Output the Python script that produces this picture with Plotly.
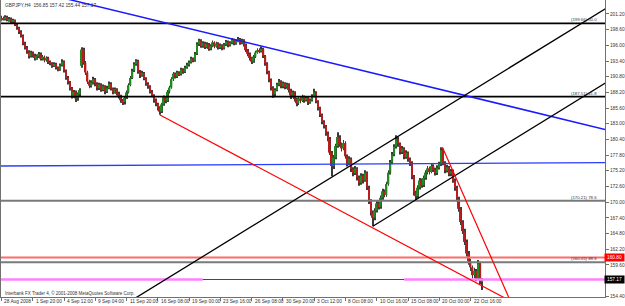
import plotly.graph_objects as go

# ---------------- data (GBPJPY, H4) ----------------
bar_index = list(range(247))

opens = [200.2,200.5,200.3,200.7,200.2,200.4,199.9,200.1,199.4,198.9,
 198.2,197.6,196.3,195.6,195.0,194.2,194.8,194.3,193.9,194.2,
 194.6,193.8,194.1,193.5,193.9,193.2,193.0,192.6,192.9,192.3,
 192.0,192.7,193.3,191.8,190.6,189.9,188.9,187.6,188.3,187.2,
 187.9,192.6,195.3,193.1,191.5,190.0,189.3,189.8,190.4,189.6,
 188.9,189.5,188.6,189.2,188.3,188.9,189.6,188.8,188.2,188.7,
 188.0,187.6,186.9,186.6,187.3,188.2,189.4,190.6,191.8,192.9,
 193.4,191.6,191.0,191.4,190.5,189.6,189.2,188.3,187.7,186.9,
 186.3,185.6,185.0,186.2,187.4,186.8,188.3,189.0,190.4,191.3,
 190.8,191.5,191.2,192.0,191.6,192.3,192.8,193.2,193.8,193.5,
 194.6,196.2,196.8,195.9,196.4,195.7,196.2,195.4,195.9,196.5,
 195.8,196.3,195.6,196.0,195.5,196.1,196.6,196.0,196.4,196.9,
 196.3,196.7,197.0,196.4,196.8,196.1,195.2,194.6,193.9,193.3,
 194.1,194.8,195.2,195.0,195.4,194.2,193.0,191.6,190.3,189.0,
 187.9,188.6,189.5,190.0,189.2,189.7,189.1,189.5,188.6,187.7,
 188.2,187.1,186.4,187.2,186.8,187.5,186.9,187.3,186.5,186.9,
 187.6,188.2,186.7,185.6,184.5,183.3,182.6,181.4,180.5,178.2,
 176.0,177.4,179.3,180.8,179.6,178.9,179.8,177.6,176.4,177.2,
 175.5,174.8,175.6,174.1,173.2,174.4,173.6,174.9,172.4,170.2,
 168.3,167.4,168.6,169.8,169.2,170.7,171.8,171.2,173.0,174.9,
 176.6,177.9,179.2,180.4,179.6,178.3,178.9,177.5,178.2,177.1,
 176.5,174.2,171.6,171.0,172.4,173.6,172.8,174.0,174.9,175.6,
 175.0,176.0,175.4,174.8,175.7,176.3,178.6,176.5,175.2,175.8,
 174.7,175.1,173.6,172.4,170.6,168.9,166.7,165.2,163.4,161.5,
 160.2,159.2,157.9,158.6,157.4,159.8,156.85]

highs = [200.9,200.8,201.0,200.9,200.7,200.6,200.4,200.3,199.7,199.1,
 198.5,197.8,196.6,195.9,195.2,195.1,195.0,194.6,194.5,194.9,
 194.8,194.4,194.3,194.2,194.1,193.5,193.2,193.2,193.1,192.5,
 193.0,193.7,193.5,192.0,190.9,190.1,189.1,188.6,188.5,188.2,
 188.9,195.7,195.6,193.4,191.8,190.3,190.2,190.8,190.6,189.9,
 189.8,189.7,189.5,189.4,189.3,190.0,189.9,189.0,189.0,188.9,
 188.3,187.8,187.1,187.6,188.5,189.7,190.9,192.1,193.2,193.7,
 193.6,191.9,191.8,191.6,190.7,189.9,189.4,188.6,187.9,187.2,
 186.5,185.9,186.5,187.7,187.6,188.6,189.3,190.7,191.6,191.5,
 191.8,191.7,192.3,192.2,192.6,193.1,193.5,194.1,194.0,194.9,
 196.5,197.1,197.0,196.7,196.6,196.5,196.4,196.2,196.8,196.7,
 196.6,196.5,196.3,196.2,196.4,196.9,196.8,196.7,197.2,197.1,
 197.0,197.4,197.2,197.1,197.0,196.3,195.4,194.8,194.1,194.4,
 195.1,195.5,195.5,195.8,195.6,194.4,193.2,191.8,190.5,189.2,
 188.9,189.8,190.4,190.2,190.0,189.9,189.8,189.7,188.8,188.5,
 188.4,187.3,187.5,187.4,187.8,187.7,187.6,187.5,187.2,187.9,
 188.8,188.4,186.9,185.8,184.7,183.6,182.8,181.7,180.8,178.5,
 177.8,179.7,181.6,181.1,179.9,180.3,180.1,177.9,177.6,177.4,
 175.8,176.0,175.8,174.4,174.8,174.7,175.3,175.1,172.7,170.5,
 168.6,169.0,170.2,170.1,171.1,172.2,172.1,173.4,175.3,177.0,
 178.3,179.6,181.1,180.8,179.9,179.3,179.1,178.6,178.4,177.4,
 176.8,174.5,171.9,172.8,174.0,173.9,174.4,175.3,176.0,175.9,
 176.4,176.3,175.7,176.1,176.7,179.1,178.9,176.8,176.2,176.0,
 175.5,175.4,173.9,172.7,170.9,169.2,167.0,165.6,163.8,161.9,
 160.6,159.5,159.1,158.9,160.4,160.1,157.42]

lows = [200.0,200.1,200.1,200.0,199.9,199.7,199.6,199.2,198.6,197.9,
 197.3,196.0,195.3,194.6,193.8,194.0,194.0,193.5,193.6,193.9,
 193.5,193.5,193.2,193.3,192.9,192.7,192.3,192.4,192.0,191.7,
 191.8,192.5,191.5,190.3,189.5,188.5,187.2,187.3,186.6,186.8,
 187.6,192.3,192.8,191.1,189.6,188.9,189.0,189.5,189.2,188.5,
 188.6,188.3,188.4,187.9,188.1,188.7,188.5,187.9,188.0,187.7,
 187.2,186.5,186.1,186.2,187.1,188.0,189.2,190.4,191.6,192.6,
 191.3,190.6,190.8,190.2,189.3,188.8,188.0,187.4,186.5,185.9,
 185.2,184.5,184.8,186.0,186.4,186.6,188.0,188.8,190.1,190.5,
 190.6,190.9,191.0,191.3,191.4,192.1,192.5,193.0,193.2,193.3,
 194.4,195.9,195.6,195.6,195.4,195.5,195.1,195.2,195.7,195.5,
 195.6,195.3,195.4,195.2,195.3,195.9,195.7,195.8,196.2,196.0,
 196.1,196.5,196.1,196.2,195.8,194.9,194.2,193.5,192.9,193.1,
 193.9,194.6,194.7,194.8,193.9,192.6,191.2,189.9,188.5,187.3,
 187.5,188.4,189.2,188.9,188.9,188.7,188.8,188.2,187.1,187.4,
 186.7,185.9,186.1,186.4,186.6,186.5,186.7,186.1,186.3,186.7,
 187.4,186.4,185.2,184.1,182.9,182.2,181.0,180.1,177.8,174.3,
 175.5,177.1,179.0,179.2,178.4,178.6,177.2,175.9,176.1,175.0,
 174.3,174.5,173.6,172.7,172.9,173.1,173.4,172.0,169.7,167.8,
 166.0,167.0,168.3,168.8,168.9,170.4,170.8,170.9,172.7,174.6,
 176.3,177.6,178.9,179.2,177.9,178.0,177.1,177.2,176.7,176.0,
 173.8,171.1,170.3,170.7,172.1,172.4,172.5,173.7,174.6,174.6,
 174.8,175.0,174.4,174.5,175.4,176.0,176.1,174.8,174.9,174.3,
 174.3,173.2,171.9,170.1,168.4,166.2,164.7,162.9,161.0,159.6,
 158.6,157.3,157.4,156.9,157.1,156.4,155.44]

closes = [200.5,200.3,200.7,200.2,200.4,199.9,200.1,199.4,198.9,198.2,
 197.6,196.3,195.6,195.0,194.2,194.8,194.3,193.9,194.2,194.6,
 193.8,194.1,193.5,193.9,193.2,193.0,192.6,192.9,192.3,192.0,
 192.7,193.3,191.8,190.6,189.9,188.9,187.6,188.3,187.2,187.9,
 188.6,195.3,193.1,191.5,190.0,189.3,189.8,190.4,189.6,188.9,
 189.5,188.6,189.2,188.3,188.9,189.6,188.8,188.2,188.7,188.0,
 187.6,186.9,186.6,187.3,188.2,189.4,190.6,191.8,192.9,193.4,
 191.6,191.0,191.4,190.5,189.6,189.2,188.3,187.7,186.9,186.3,
 185.6,185.0,186.2,187.4,186.8,188.3,189.0,190.4,191.3,190.8,
 191.5,191.2,192.0,191.6,192.3,192.8,193.2,193.8,193.5,194.6,
 196.2,196.8,195.9,196.4,195.7,196.2,195.4,195.9,196.5,195.8,
 196.3,195.6,196.0,195.5,196.1,196.6,196.0,196.4,196.9,196.3,
 196.7,197.0,196.4,196.8,196.1,195.2,194.6,193.9,193.3,194.1,
 194.8,195.2,195.0,195.4,194.2,193.0,191.6,190.3,189.0,187.9,
 188.6,189.5,190.0,189.2,189.7,189.1,189.5,188.6,187.7,188.2,
 187.1,186.4,187.2,186.8,187.5,186.9,187.3,186.5,186.9,187.6,
 188.2,186.7,185.6,184.5,183.3,182.6,181.4,180.5,178.2,176.0,
 177.4,179.3,180.8,179.6,178.9,179.8,177.6,176.4,177.2,175.5,
 174.8,175.6,174.1,173.2,174.4,173.6,174.9,172.4,170.2,168.3,
 167.4,168.6,169.8,169.2,170.7,171.8,171.2,173.0,174.9,176.6,
 177.9,179.2,180.4,179.6,178.3,178.9,177.5,178.2,177.1,176.5,
 174.2,171.6,171.0,172.4,173.6,172.8,174.0,174.9,175.6,175.0,
 176.0,175.4,174.8,175.7,176.3,178.6,176.5,175.2,175.8,174.7,
 175.1,173.6,172.4,170.6,168.9,166.7,165.2,163.4,161.5,160.2,
 159.2,157.9,158.6,157.4,159.8,156.85,157.17]

# time-axis labels (one every 16 bars)
time_tick_bars = [0,16,32,48,64,80,96,112,128,144,160,176,192,208,224,240]
time_tick_labels = ["28 Aug 2008","1 Sep 20:00","4 Sep 12:00","9 Sep 04:00","11 Sep 20:00",
                    "16 Sep 08:00","19 Sep 00:00","23 Sep 16:00","26 Sep 08:00","30 Sep 20:00",
                    "3 Oct 12:00","8 Oct 08:00","10 Oct 16:00","15 Oct 08:00","20 Oct 00:00",
                    "22 Oct 16:00"]

# price scale labels (157.00 is hidden under the bid-price box)
price_ticks = [201.20,198.60,196.00,193.40,190.80,188.20,185.60,183.00,180.40,177.80,
               175.20,172.60,170.00,167.40,164.80,162.20,159.60,154.40]

# trend lines: (bar, price) anchor pairs
blue_trend_bars = [20, 312]
blue_trend_prices = [204.75, 181.81]
blue_flat_bars = [-1, 312]
blue_flat_prices = [175.99, 176.55]
channel_upper_bars = [60, 312]
channel_upper_prices = [152.40, 202.68]
channel_lower_bars = [190, 312]
channel_lower_prices = [166.00, 190.34]
red_low_bars = [81.1, 262]
red_low_prices = [184.45, 153.34]
red_high_bars = [225.6, 262]
red_high_prices = [179.10, 152.42]

# Fibonacci levels
fib_prices = [199.66, 187.50, 170.21, 160.05]
fib_labels = ["(199.66) 50.0", "(187.51) 61.8", "(170.21) 78.6", "(160.05) 88.6"]
red_level = 160.80
bid_price = 157.17
pink_segment_bars = [[-1, 103], [103, 206], [206, 312]]

title_text = "GBPJPY,H4  156.85 157.42 155.44 157.17"
copyright_text = "Interbank FX Trader 4, \u00a9 2001-2008 MetaQuotes Software Corp."

# ---------------- figure ----------------
FONT = "Liberation Sans, Arial, sans-serif"
FS = 4.8
BULL = "#1f8a1f"
BEAR = "#b81c1c"

fig = go.Figure()

# wicks
fig.add_trace(go.Bar(
    x=bar_index, base=lows, y=[h - l for h, l in zip(highs, lows)],
    width=0.45, marker=dict(color="#3a3a3a", line=dict(width=0)), hoverinfo="skip"))
# bodies
fig.add_trace(go.Bar(
    x=bar_index,
    base=[min(o, c) for o, c in zip(opens, closes)],
    y=[max(abs(c - o), 0.12) for o, c in zip(opens, closes)],
    width=0.85,
    marker=dict(color=[BULL if c >= o else BEAR for o, c in zip(opens, closes)], line=dict(width=0)),
    hoverinfo="skip"))

def line(xs, ys, color, width):
    fig.add_trace(go.Scatter(x=xs, y=ys, mode="lines", line=dict(color=color, width=width),
                             hoverinfo="skip"))

xl = [-1, 312]
# horizontal levels
line(xl, [fib_prices[0]] * 2, "#000000", 1.8)
line(xl, [fib_prices[1]] * 2, "#000000", 1.8)
line(xl, [fib_prices[2]] * 2, "#7a7a7a", 2)
line(xl, [red_level] * 2, "#ff6a6a", 2)
line(xl, [fib_prices[3]] * 2, "#7a7a7a", 2)
line(pink_segment_bars[0], [bid_price] * 2, "#ff80ff", 2.5)
line(pink_segment_bars[1], [bid_price] * 2, "#b000b0", 1)
line(pink_segment_bars[2], [bid_price] * 2, "#ff80ff", 2.5)

# trend lines
line(blue_flat_bars, blue_flat_prices, "#2a3cff", 1.3)
line(blue_trend_bars, blue_trend_prices, "#1a1aff", 1.5)
line(channel_upper_bars, channel_upper_prices, "#000000", 1.3)
line(channel_lower_bars, channel_lower_prices, "#000000", 1.3)
line(red_low_bars, red_low_prices, "#ff0000", 1.2)
line(red_high_bars, red_high_prices, "#ff0000", 1.2)

annotations = []
for b, t in zip(time_tick_bars, time_tick_labels):
    annotations.append(dict(x=b, xref="x", y=-0.0135, yref="paper", text=t, showarrow=False,
                            xanchor="left", yanchor="middle", xshift=1,
                            font=dict(family=FONT, size=FS, color="#333333")))
for p, t in zip(fib_prices, fib_labels):
    annotations.append(dict(x=0.99, xref="paper", y=p, yref="y", text=t, showarrow=False,
                            xanchor="right", yanchor="bottom", yshift=-1,
                            font=dict(family=FONT, size=4.3, color="#333333")))
annotations.append(dict(x=1, xref="paper", y=red_level, yref="y", text=f"{red_level:.2f}",
                        showarrow=False, xanchor="left", yanchor="middle", xshift=-1,
                        bgcolor="#ff0000", width=17, height=5, borderpad=1, align="center",
                        font=dict(family=FONT, size=FS, color="#ffffff")))
annotations.append(dict(x=1, xref="paper", y=bid_price, yref="y", text=f"{bid_price:.2f}",
                        showarrow=False, xanchor="left", yanchor="middle", xshift=-1,
                        bgcolor="#000000", width=17, height=5, borderpad=1, align="center",
                        font=dict(family=FONT, size=FS, color="#ffffff")))
annotations.append(dict(x=0.004, xref="paper", y=0.983, yref="paper", text=title_text,
                        showarrow=False, xanchor="left", yanchor="middle",
                        font=dict(family=FONT, size=FS, color="#333333")))
annotations.append(dict(x=0.004, xref="paper", y=0.0135, yref="paper", text=copyright_text,
                        showarrow=False, xanchor="left", yanchor="middle",
                        font=dict(family=FONT, size=4.5, color="#333333")))

fig.update_layout(
    width=625, height=306,
    margin=dict(l=1, r=18, t=0, b=9),
    paper_bgcolor="white", plot_bgcolor="white",
    showlegend=False, barmode="overlay",
    annotations=annotations,
    xaxis=dict(range=[-0.25, 308.8], showgrid=False, zeroline=False,
               showline=True, linecolor="#707070", linewidth=1,
               ticks="outside", ticklen=3, tickcolor="#707070",
               tickvals=time_tick_bars, showticklabels=False, fixedrange=True),
    yaxis=dict(side="right", range=[154.27, 203.52], showgrid=False, zeroline=False,
               showline=True, mirror=True, linecolor="#707070", linewidth=1,
               ticks="outside", ticklen=3, tickcolor="#707070",
               tickvals=price_ticks, ticktext=[f"{v:.2f}" for v in price_ticks],
               tickfont=dict(family=FONT, size=FS, color="#333333"), fixedrange=True),
)

fig.write_html("out.html")
